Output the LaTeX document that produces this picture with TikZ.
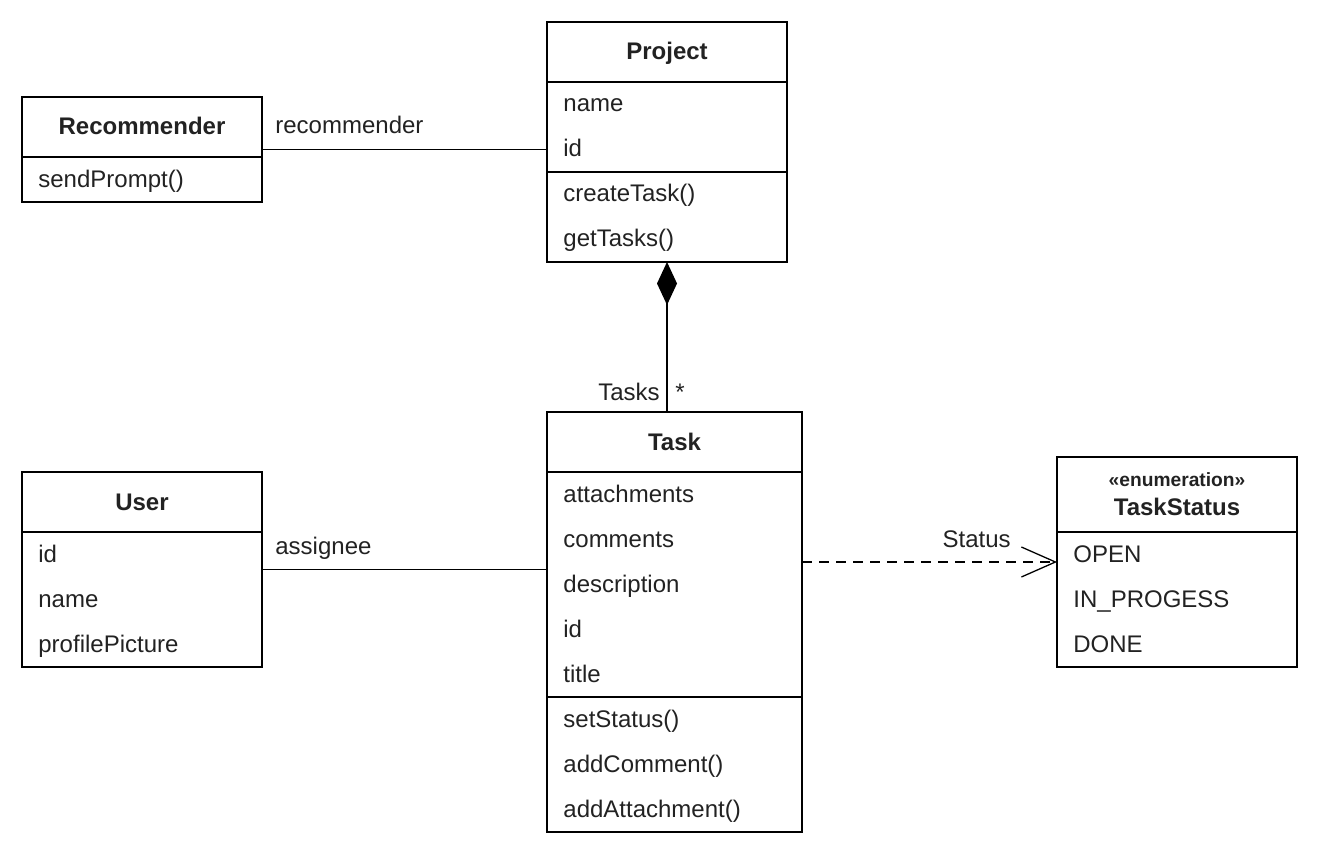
\documentclass[tikz,border=0pt]{standalone}
\usepackage{fontspec}
\setmainfont{Liberation Sans}
\usetikzlibrary{arrows.meta}
\definecolor{txt}{HTML}{222222}
\begin{document}
\begin{tikzpicture}[x=0.5pt,y=-0.5pt,
  cls/.style={draw=black, line width=0.65pt, rectangle, anchor=north west, inner sep=0pt, outer sep=0pt},
  item/.style={anchor=base west, inner sep=0pt, font=\fontsize{12}{14}\selectfont, text=txt},
  head/.style={anchor=base, inner sep=0pt, font=\fontsize{12}{14}\selectfont\bfseries, text=txt},
  stereo/.style={anchor=base, inner sep=0pt, font=\fontsize{9.6}{11}\selectfont\bfseries, text=txt},
  rlabel/.style={anchor=base east, inner sep=0pt, font=\fontsize{12}{14}\selectfont, text=txt},
  divider/.style={draw=black, line width=0.65pt},
  conn/.style={draw=black, line width=0.65pt}]
\useasboundingbox (0,0) rectangle (1320,855);

% Project
\node[cls, minimum width=120pt, minimum height=120pt] (project) at (547,22) {};
\draw[divider] (project.west |- 0,82) -- (project.east |- 0,82);
\draw[divider] (project.west |- 0,172) -- (project.east |- 0,172);
\node[head] (projecth) at (667,60) {Project};
\node[item] (pname) at (563,112) {name};
\node[item] (pid) at (563,157) {id};
\node[item] (pcreate) at (563,202) {createTask()};
\node[item] (pget) at (563,247) {getTasks()};

% Recommender
\node[cls, minimum width=120pt, minimum height=52.5pt] (rec) at (22,97) {};
\draw[divider] (rec.west |- 0,157) -- (rec.east |- 0,157);
\node[head] (rech) at (142,135) {Recommender};
\node[item] (rsend) at (38,188) {sendPrompt()};

% User
\node[cls, minimum width=120pt, minimum height=97.5pt] (user) at (22,472) {};
\draw[divider] (user.west |- 0,532) -- (user.east |- 0,532);
\node[head] (userh) at (142,510) {User};
\node[item] (uid) at (38,562) {id};
\node[item] (uname) at (38,607) {name};
\node[item] (upic) at (38,652) {profilePicture};

% Task
\node[cls, minimum width=127.5pt, minimum height=210pt] (task) at (547,412) {};
\draw[divider] (task.west |- 0,472) -- (task.east |- 0,472);
\draw[divider] (task.west |- 0,697) -- (task.east |- 0,697);
\node[head] (taskh) at (674.5,450) {Task};
\node[item] (tatt) at (563,502) {attachments};
\node[item] (tcom) at (563,547) {comments};
\node[item] (tdesc) at (563,592) {description};
\node[item] (tid) at (563,637) {id};
\node[item] (ttitle) at (563,682) {title};
\node[item] (tset) at (563,727) {setStatus()};
\node[item] (taddc) at (563,772) {addComment()};
\node[item] (tadda) at (563,817) {addAttachment()};

% TaskStatus
\node[cls, minimum width=120pt, minimum height=105pt] (status) at (1057,457) {};
\draw[divider] (status.west |- 0,532) -- (status.east |- 0,532);
\node[stereo] (enum) at (1177,486) {«enumeration»};
\node[head] (statush) at (1177,515) {TaskStatus};
\node[item] (sopen) at (1073,562) {OPEN};
\node[item] (sprog) at (1073,607) {IN\_PROGESS};
\node[item] (sdone) at (1073,652) {DONE};

% Connectors
\draw[conn] (rec.east) -- (rec.east -| project.west);
\node[item] (lrec) at (275,134) {recommender};

\draw[conn] (user.east) -- (user.east -| task.west);
\node[item] (lassign) at (275,554) {assignee};

\draw[conn, {Diamond[length=21.5pt,width=10pt,fill=black]}-] (project.south) -- (project.south |- task.north);
\node[rlabel] (ltasks) at (660,400) {Tasks};
\node[item] (lmult) at (675,400) {*};

\draw[conn, dash pattern=on 5pt off 3.5pt, -{Straight Barb[length=17pt,width=15pt]}] (task.east |- status.west) -- (status.west);
\node[rlabel] (lstatus) at (1011,547) {Status};
\end{tikzpicture}
\end{document}
